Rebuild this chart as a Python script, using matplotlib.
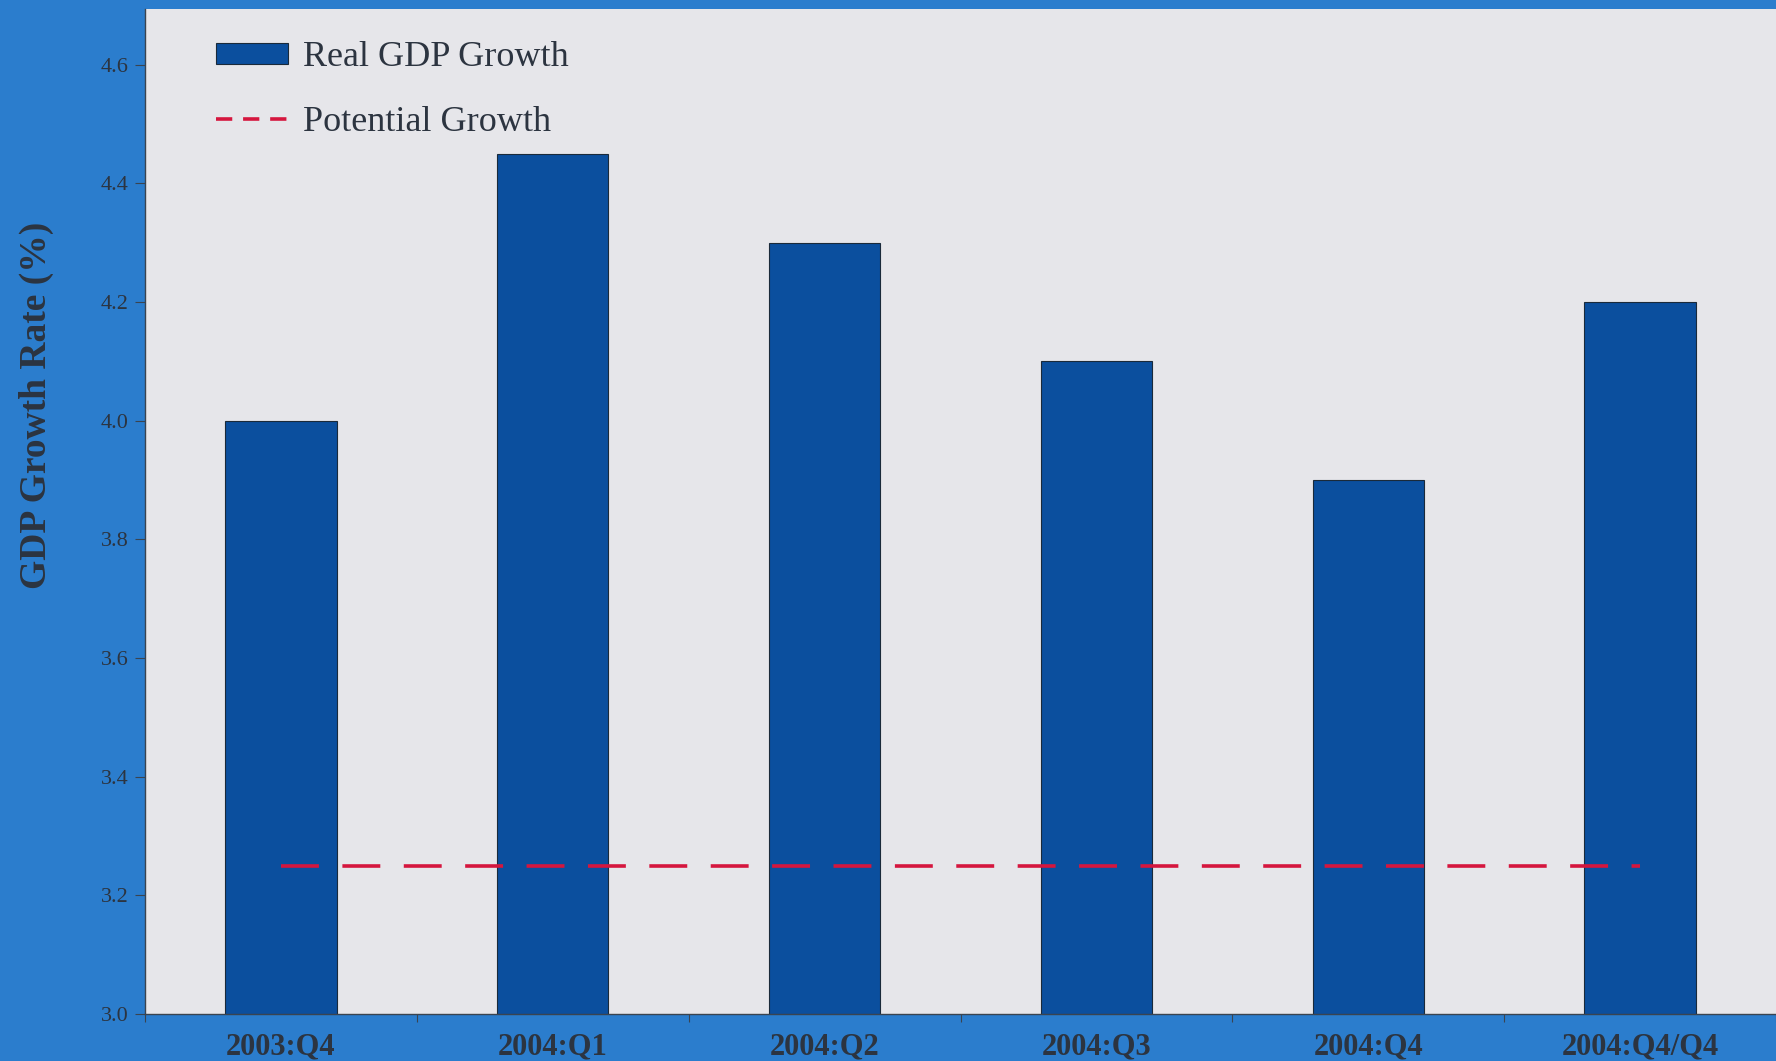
import matplotlib
matplotlib.use("Agg")
import matplotlib.pyplot as plt
from matplotlib.patches import Patch
from matplotlib.lines import Line2D
import numpy as np

# ---- data ----
quarters = ["2003:Q4", "2004:Q1", "2004:Q2", "2004:Q3", "2004:Q4", "2004:Q4/Q4"]
real_gdp = [4.0, 4.45, 4.3, 4.1, 3.9, 4.2]
potential = [3.25, 3.25, 3.25, 3.25, 3.25, 3.25]
yticks = [3.0, 3.2, 3.4, 3.6, 3.8, 4.0, 4.2, 4.4, 4.6]

BG_BLUE = "#2b7dcd"
PANEL = "#e6e6ea"
BAR = "#0b4f9e"
RED = "#d5163e"
TXT = "#2c3440"

plt.rcParams["font.family"] = ["Liberation Serif", "DejaVu Serif"]

fig = plt.figure(figsize=(17.76, 10.61), dpi=100, facecolor=BG_BLUE)
# axes: left edge ~145px, top ~9px, x-axis ~1014px, runs to right edge
ax = fig.add_axes([145 / 1776, 1 - 1014 / 1061, 1 - 145 / 1776, (1014 - 9) / 1061])
ax.set_facecolor(PANEL)

x = np.arange(len(quarters))
ax.bar(x, real_gdp, width=0.41, color=BAR, edgecolor="#1a2a3a", linewidth=0.8,
       zorder=2)
ax.plot(x, potential, color=RED, lw=2.6, dashes=(10.5, 6.5), zorder=3)

ax.set_xlim(-0.495, 5.48)
ax.set_ylim(3.0, 4.694)
ax.set_yticks(yticks)
ax.set_yticklabels(["%.1f" % v for v in yticks], fontsize=16, color=TXT)
ax.tick_params(axis="y", direction="out", length=7, width=0.8, colors="#3a4450",
               pad=5)
for lb in ax.get_yticklabels():
    lb.set_color(TXT)
ax.set_xticks(x)
ax.set_xticklabels(quarters, fontsize=22, fontweight="bold", color=TXT)
ax.tick_params(axis="x", length=0, pad=13)
# minor ticks between categories
ax.set_xticks(np.arange(-0.5, 5.6, 1.0), minor=True)
ax.tick_params(axis="x", which="minor", direction="out", length=6, width=0.8,
               colors="#3a4450")

for s in ["top", "right"]:
    ax.spines[s].set_visible(False)
for s in ["left", "bottom"]:
    ax.spines[s].set_color("#3a4450")
    ax.spines[s].set_linewidth(1.0)

ax.set_ylabel("GDP Growth Rate (%)", fontsize=27, fontweight="bold", color=TXT)
ax.yaxis.set_label_coords(-0.056, 0.606)

handles = [Patch(facecolor=BAR, edgecolor="#1a2a3a", linewidth=0.8),
           Line2D([0], [0], color=RED, lw=2.6, dashes=(4.5, 3))]
ax.legend(handles, ["Real GDP Growth", "Potential Growth"], loc="upper left",
          bbox_to_anchor=(0.028, 0.993), frameon=False, fontsize=26,
          labelcolor=TXT, handlelength=2.0, handleheight=0.55, handletextpad=0.4,
          labelspacing=0.88, borderaxespad=0.3)

fig.savefig("out.png", facecolor=BG_BLUE)
